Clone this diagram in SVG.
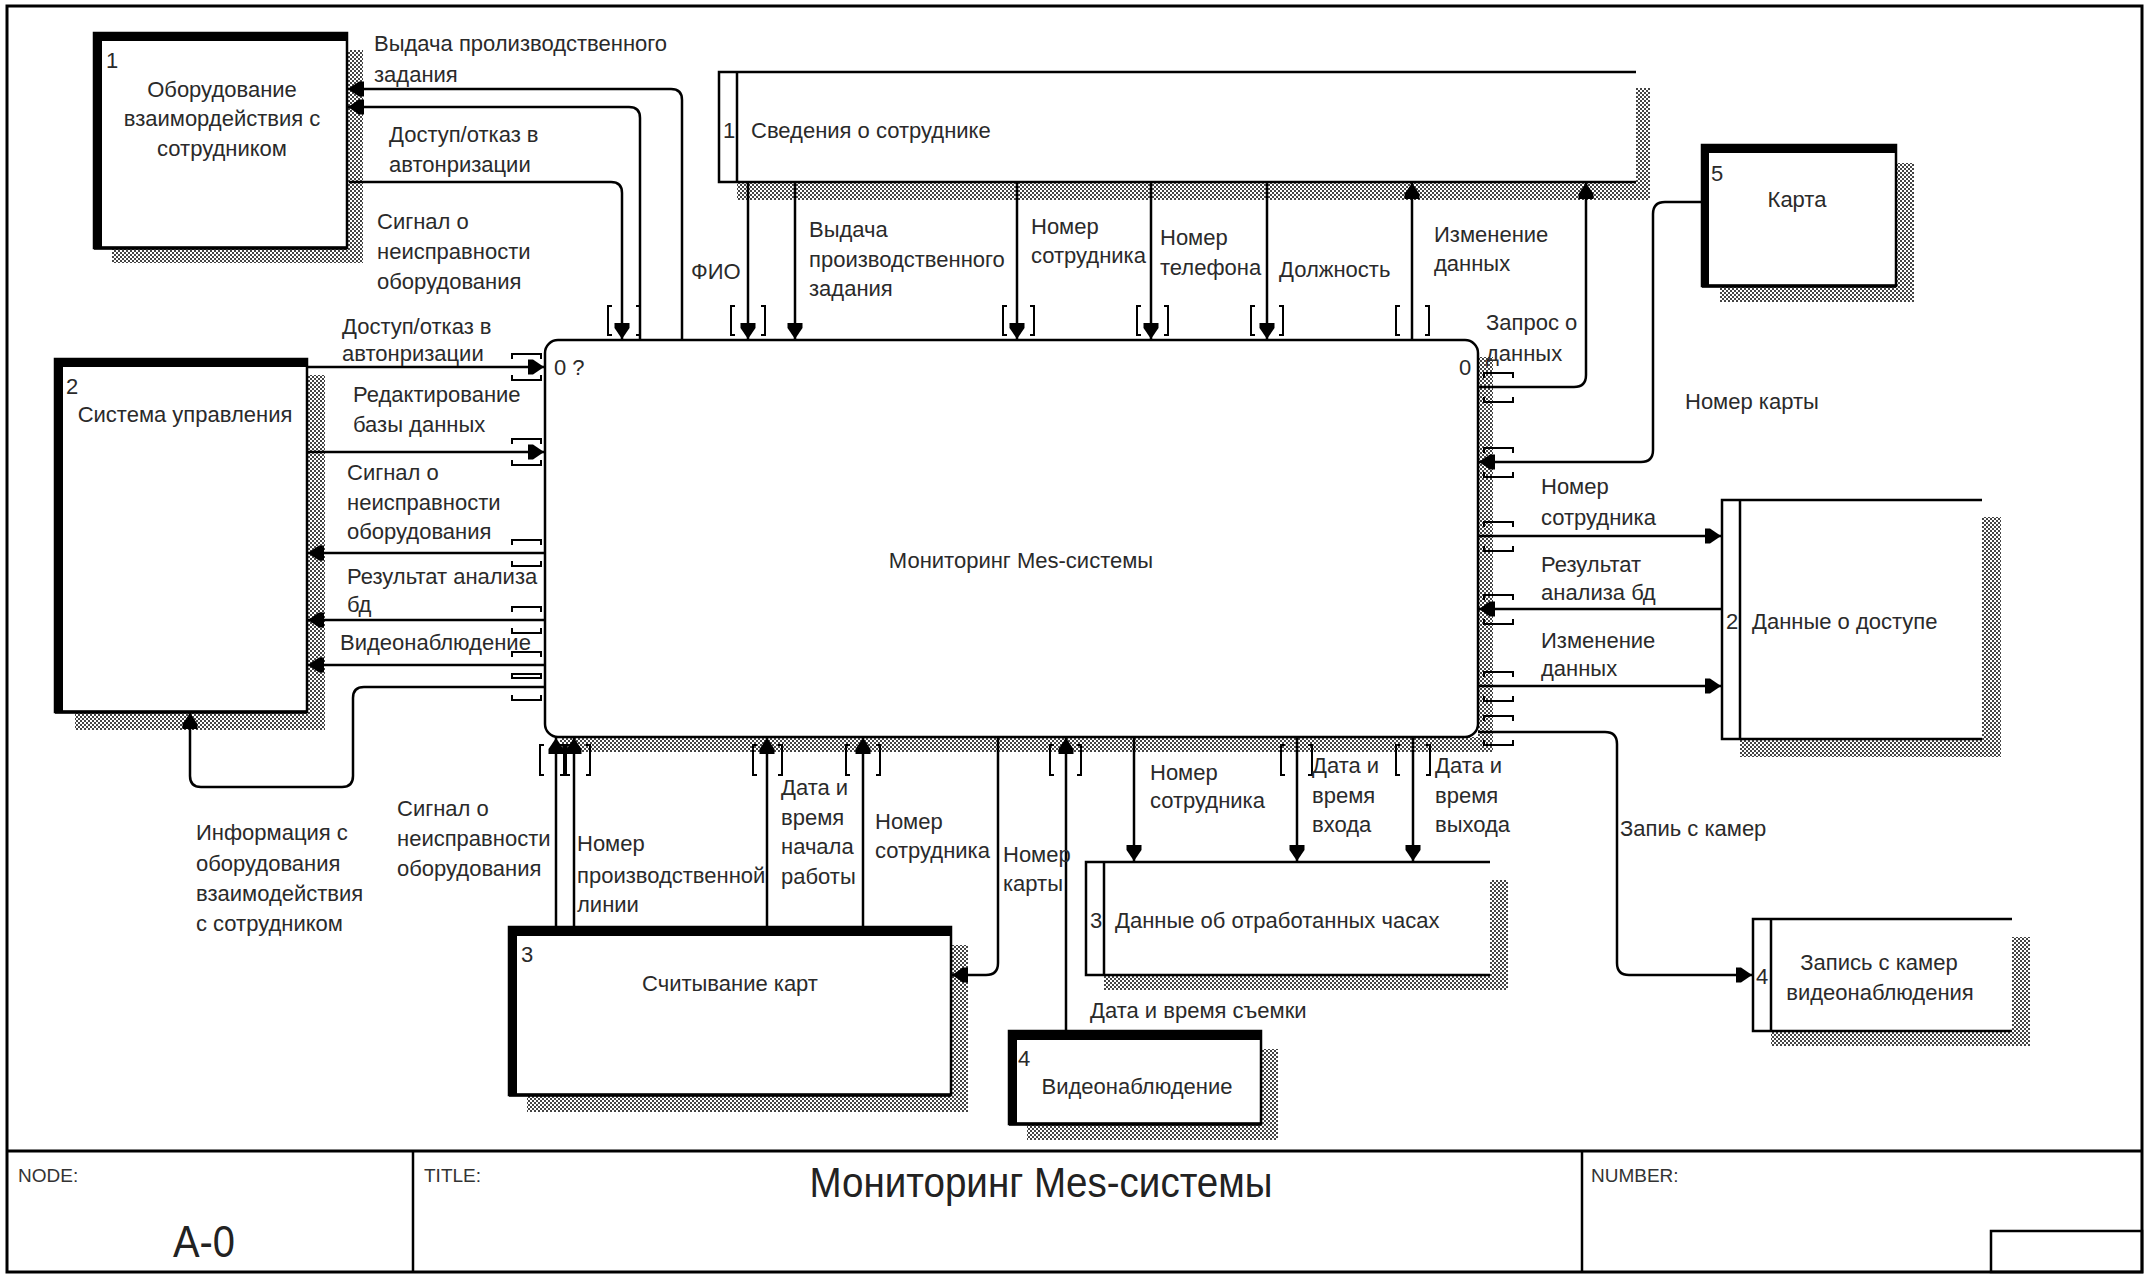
<svg xmlns="http://www.w3.org/2000/svg" width="2146" height="1276" viewBox="0 0 2146 1276">
<defs>
<pattern id="hatch" width="4" height="4" patternUnits="userSpaceOnUse">
<rect width="4" height="4" fill="#fff"/>
<rect x="0" y="0" width="2" height="2" fill="#444"/>
<rect x="2" y="2" width="2" height="2" fill="#444"/>
</pattern>
<marker id="ah" viewBox="0 0 17 17" refX="17" refY="8.5" markerWidth="17" markerHeight="17" markerUnits="userSpaceOnUse" orient="auto">
<path d="M17,8.5 L6,1 L1,1 L1,16 L6,16 Z" fill="#000"/>
</marker>
<style>
.t{font-family:"Liberation Sans",Arial,sans-serif;font-size:22px;fill:#2a2a2a}
.m{text-anchor:middle}
.c{fill:none;stroke:#000;stroke-width:2.5}
.a{marker-end:url(#ah)}
.br{fill:none;stroke:#000;stroke-width:2}
.sh{fill:url(#hatch);stroke:none}
.box{fill:#fff;stroke:#000;stroke-width:2.5}
.thick{fill:#000}
.ds{fill:none;stroke:#000;stroke-width:2.5}
.hd{font-family:"Liberation Sans",Arial,sans-serif;font-size:19px;fill:#333}
</style>
</defs>
<rect x="0" y="0" width="2146" height="1276" fill="#fff"/>

<!-- frame -->
<g id="frame">
<rect x="7" y="6" width="2135" height="1266" fill="none" stroke="#000" stroke-width="3"/>
<line x1="7" y1="1151" x2="2142" y2="1151" stroke="#000" stroke-width="3"/>
<line x1="413" y1="1151" x2="413" y2="1272" stroke="#000" stroke-width="2.5"/>
<line x1="1582" y1="1151" x2="1582" y2="1272" stroke="#000" stroke-width="2.5"/>
<rect x="1991" y="1231" width="151" height="41" fill="none" stroke="#000" stroke-width="2.5"/>
<text class="hd" x="18" y="1182">NODE:</text>
<text class="hd" x="424" y="1182">TITLE:</text>
<text class="hd" x="1591" y="1182">NUMBER:</text>
<text x="204" y="1257" text-anchor="middle" font-family="'Liberation Sans',Arial,sans-serif" font-size="45" fill="#222" textLength="62" lengthAdjust="spacingAndGlyphs">A-0</text>
<text x="1041" y="1197" text-anchor="middle" font-family="'Liberation Sans',Arial,sans-serif" font-size="43" fill="#222" textLength="463" lengthAdjust="spacingAndGlyphs">Мониторинг Mes-системы</text>
</g>

<!-- shadows -->
<g id="shadows">
<rect class="sh" x="347" y="50" width="16" height="213"/>
<rect class="sh" x="112" y="248" width="251" height="15"/>
<rect class="sh" x="307" y="375" width="18" height="355"/>
<rect class="sh" x="75" y="712" width="250" height="18"/>
<rect class="sh" x="951" y="945" width="17" height="167"/>
<rect class="sh" x="527" y="1095" width="441" height="17"/>
<rect class="sh" x="1261" y="1049" width="17" height="91"/>
<rect class="sh" x="1027" y="1124" width="251" height="16"/>
<rect class="sh" x="1896" y="163" width="18" height="139"/>
<rect class="sh" x="1720" y="286" width="194" height="16"/>
<rect class="sh" x="1478" y="357" width="15" height="395"/>
<rect class="sh" x="560" y="737" width="933" height="15"/>
<rect class="sh" x="1636" y="88" width="14" height="112"/>
<rect class="sh" x="737" y="182" width="913" height="18"/>
<rect class="sh" x="1982" y="517" width="19" height="240"/>
<rect class="sh" x="1740" y="739" width="261" height="18"/>
<rect class="sh" x="1490" y="880" width="18" height="110"/>
<rect class="sh" x="1104" y="975" width="404" height="15"/>
<rect class="sh" x="2012" y="937" width="18" height="109"/>
<rect class="sh" x="1771" y="1031" width="259" height="15"/>
</g>

<!-- main process -->
<g id="node0">
<rect class="box" x="545" y="340" width="933" height="397" rx="13" ry="13"/>
<text class="t" x="554" y="375">0 ?</text>
<text class="t" x="1459" y="375">0</text>
<text class="t m" x="1021" y="568">Мониторинг Mes-системы</text>
</g>

<!-- external entities -->
<g id="ext1">
<rect class="box" x="94" y="33" width="253" height="215"/>
<rect class="thick" x="94" y="33" width="253" height="8"/>
<rect class="thick" x="94" y="33" width="8" height="215"/>
<line x1="94" y1="248" x2="347" y2="248" stroke="#000" stroke-width="3.5"/>
<text class="t" x="106" y="68">1</text>
<text class="t m" x="222" y="97">Оборудование</text>
<text class="t m" x="222" y="126">взаимордействия с</text>
<text class="t m" x="222" y="156">сотрудником</text>
</g>
<g id="ext2">
<rect class="box" x="55" y="359" width="252" height="353"/>
<rect class="thick" x="55" y="359" width="252" height="8"/>
<rect class="thick" x="55" y="359" width="8" height="353"/>
<line x1="55" y1="712" x2="307" y2="712" stroke="#000" stroke-width="3.5"/>
<text class="t" x="66" y="394">2</text>
<text class="t m" x="185" y="422">Система управления</text>
</g>
<g id="ext3">
<rect class="box" x="509" y="927" width="442" height="168"/>
<rect class="thick" x="509" y="927" width="442" height="9"/>
<rect class="thick" x="509" y="927" width="8" height="168"/>
<line x1="509" y1="1095" x2="951" y2="1095" stroke="#000" stroke-width="3.5"/>
<text class="t" x="521" y="962">3</text>
<text class="t m" x="730" y="991">Считывание карт</text>
</g>
<g id="ext4">
<rect class="box" x="1009" y="1031" width="252" height="93"/>
<rect class="thick" x="1009" y="1031" width="252" height="9"/>
<rect class="thick" x="1009" y="1031" width="8" height="93"/>
<line x1="1009" y1="1124" x2="1261" y2="1124" stroke="#000" stroke-width="3.5"/>
<text class="t" x="1018" y="1066">4</text>
<text class="t m" x="1137" y="1094">Видеонаблюдение</text>
</g>
<g id="ext5">
<rect class="box" x="1702" y="145" width="194" height="141"/>
<rect class="thick" x="1702" y="145" width="194" height="8"/>
<rect class="thick" x="1702" y="145" width="7" height="141"/>
<line x1="1702" y1="286" x2="1896" y2="286" stroke="#000" stroke-width="3.5"/>
<text class="t" x="1711" y="181">5</text>
<text class="t m" x="1797" y="207">Карта</text>
</g>

<!-- data stores -->
<g id="store1">
<rect x="719" y="72" width="917" height="110" fill="#fff"/>
<path class="ds" d="M1636,72 H719 V182 H1636 M737,72 V182"/>
<text class="t" x="723" y="138">1</text>
<text class="t" x="751" y="138">Сведения о сотруднике</text>
</g>
<g id="store2">
<rect x="1722" y="500" width="260" height="239" fill="#fff"/>
<path class="ds" d="M1982,500 H1722 V739 H1982 M1740,500 V739"/>
<text class="t" x="1726" y="629">2</text>
<text class="t" x="1752" y="629">Данные о доступе</text>
</g>
<g id="store3">
<rect x="1086" y="862" width="404" height="113" fill="#fff"/>
<path class="ds" d="M1490,862 H1086 V975 H1490 M1104,862 V975"/>
<text class="t" x="1090" y="928">3</text>
<text class="t" x="1115" y="928">Данные об отработанных часах</text>
</g>
<g id="store4">
<rect x="1753" y="919" width="259" height="112" fill="#fff"/>
<path class="ds" d="M2012,919 H1753 V1031 H2012 M1771,919 V1031"/>
<text class="t" x="1756" y="984">4</text>
<text class="t m" x="1879" y="970">Запись с камер</text>
<text class="t m" x="1880" y="1000">видеонаблюдения</text>
</g>

<!-- connectors -->
<g id="connectors">
<path class="c a" d="M682,340 V100 Q682,89 671,89 H348"/>
<path class="c a" d="M640,340 V118 Q640,107 629,107 H348"/>
<path class="c a" d="M349,182 H611 Q622,182 622,193 V339"/>
<path class="c a" d="M307,367 H544"/>
<path class="c a" d="M307,452 H544"/>
<path class="c a" d="M545,553 H308"/>
<path class="c a" d="M545,620 H308"/>
<path class="c a" d="M545,665 H308"/>
<path class="c a" d="M545,687 H364 Q353,687 353,698 V776 Q353,787 342,787 H201 Q190,787 190,776 V713"/>
<path class="c a" d="M556,927 V738"/>
<path class="c a" d="M574,927 V738"/>
<path class="c a" d="M767,927 V738"/>
<path class="c a" d="M863,927 V738"/>
<path class="c a" d="M998,737 V963 Q998,975 986,975 H952"/>
<path class="c a" d="M1066,1031 V738"/>
<path class="c a" d="M1134,737 V861"/>
<path class="c a" d="M1297,737 V861"/>
<path class="c a" d="M1413,737 V861"/>
<path class="c a" d="M1478,732 H1605 Q1617,732 1617,744 V963 Q1617,975 1629,975 H1752"/>
<path class="c a" d="M748,182 V339"/>
<path class="c a" d="M795,182 V339"/>
<path class="c a" d="M1017,182 V339"/>
<path class="c a" d="M1151,182 V339"/>
<path class="c a" d="M1267,182 V339"/>
<path class="c a" d="M1412,340 V183"/>
<path class="c a" d="M1478,387 H1574 Q1586,387 1586,375 V183"/>
<path class="c a" d="M1702,202 H1665 Q1653,202 1653,214 V450 Q1653,462 1641,462 H1479"/>
<path class="c a" d="M1478,536 H1721"/>
<path class="c a" d="M1722,609 H1479"/>
<path class="c a" d="M1478,686 H1721"/>

<path class="br" d="M612,306 h-4 V335 h4 M636,306 h4 V335 h-4"/>
<path class="br" d="M735,306 h-4 V335 h4 M761,306 h4 V335 h-4"/>
<path class="br" d="M1007,306 h-4 V335 h4 M1030,306 h4 V335 h-4"/>
<path class="br" d="M1141,306 h-4 V335 h4 M1164,306 h4 V335 h-4"/>
<path class="br" d="M1255,306 h-4 V335 h4 M1279,306 h4 V335 h-4"/>
<path class="br" d="M1400,306 h-4 V335 h4 M1425,306 h4 V335 h-4"/>
<path class="br" d="M544,745 h-4 V775 h4 M560,745 h4 V775 h-4"/>
<path class="br" d="M570,745 h-4 V775 h4 M586,745 h4 V775 h-4"/>
<path class="br" d="M757,745 h-4 V775 h4 M778,745 h4 V775 h-4"/>
<path class="br" d="M850,745 h-4 V775 h4 M876,745 h4 V775 h-4"/>
<path class="br" d="M1054,745 h-4 V775 h4 M1077,745 h4 V775 h-4"/>
<path class="br" d="M1285,745 h-4 V775 h4 M1308,745 h4 V775 h-4"/>
<path class="br" d="M1400,745 h-4 V775 h4 M1426,745 h4 V775 h-4"/>
<path class="br" d="M512,359 v-5 H541 v5 M512,375 v5 H541 v-5"/>
<path class="br" d="M512,444 v-5 H541 v5 M512,460 v5 H541 v-5"/>
<path class="br" d="M512,545 v-5 H541 v5 M512,561 v5 H541 v-5"/>
<path class="br" d="M512,612 v-5 H541 v5 M512,628 v5 H541 v-5"/>
<path class="br" d="M512,657 v-5 H541 v5 M512,673 v5 H541 v-5"/>
<path class="br" d="M512,679 v-5 H541 v5 M512,695 v5 H541 v-5"/>
<path class="br" d="M1484,378 v-5 H1513 v5 M1484,397 v5 H1513 v-5"/>
<path class="br" d="M1484,453 v-5 H1513 v5 M1484,472 v5 H1513 v-5"/>
<path class="br" d="M1484,527 v-5 H1513 v5 M1484,546 v5 H1513 v-5"/>
<path class="br" d="M1484,600 v-5 H1513 v5 M1484,619 v5 H1513 v-5"/>
<path class="br" d="M1484,677 v-5 H1513 v5 M1484,696 v5 H1513 v-5"/>
<path class="br" d="M1484,721 v-5 H1513 v5 M1484,740 v5 H1513 v-5"/>

<text class="t" x="374" y="51">Выдача пролизводственного</text>
<text class="t" x="374" y="82">задания</text>
<text class="t" x="389" y="142">Доступ/отказ в</text>
<text class="t" x="389" y="172">автонризации</text>
<text class="t" x="377" y="229">Сигнал о</text>
<text class="t" x="377" y="259">неисправности</text>
<text class="t" x="377" y="289">оборудования</text>
<text class="t" x="342" y="334">Доступ/отказ в</text>
<text class="t" x="342" y="361">автонризации</text>
<text class="t" x="353" y="402">Редактирование</text>
<text class="t" x="353" y="432">базы данных</text>
<text class="t" x="347" y="480">Сигнал о</text>
<text class="t" x="347" y="510">неисправности</text>
<text class="t" x="347" y="539">оборудования</text>
<text class="t" x="347" y="584">Результат анализа</text>
<text class="t" x="347" y="612">бд</text>
<text class="t" x="340" y="650">Видеонаблюдение</text>
<text class="t" x="196" y="840">Информация с</text>
<text class="t" x="196" y="871">оборудования</text>
<text class="t" x="196" y="901">взаимодействия</text>
<text class="t" x="196" y="931">с сотрудником</text>
<text class="t" x="397" y="816">Сигнал о</text>
<text class="t" x="397" y="846">неисправности</text>
<text class="t" x="397" y="876">оборудования</text>
<text class="t" x="577" y="851">Номер</text>
<text class="t" x="577" y="883">производственной</text>
<text class="t" x="577" y="912">линии</text>
<text class="t" x="781" y="795">Дата и</text>
<text class="t" x="781" y="825">время</text>
<text class="t" x="781" y="854">начала</text>
<text class="t" x="781" y="884">работы</text>
<text class="t" x="875" y="829">Номер</text>
<text class="t" x="875" y="858">сотрудника</text>
<text class="t" x="1003" y="862">Номер</text>
<text class="t" x="1003" y="891">карты</text>
<text class="t" x="1090" y="1018">Дата и время съемки</text>
<text class="t" x="1150" y="780">Номер</text>
<text class="t" x="1150" y="808">сотрудника</text>
<text class="t" x="1312" y="773">Дата и</text>
<text class="t" x="1312" y="803">время</text>
<text class="t" x="1312" y="832">входа</text>
<text class="t" x="1435" y="773">Дата и</text>
<text class="t" x="1435" y="803">время</text>
<text class="t" x="1435" y="832">выхода</text>
<text class="t" x="1620" y="836">Запиь с камер</text>
<text class="t" x="691" y="279">ФИО</text>
<text class="t" x="809" y="237">Выдача</text>
<text class="t" x="809" y="267">производственного</text>
<text class="t" x="809" y="296">задания</text>
<text class="t" x="1031" y="234">Номер</text>
<text class="t" x="1031" y="263">сотрудника</text>
<text class="t" x="1160" y="245">Номер</text>
<text class="t" x="1160" y="275">телефона</text>
<text class="t" x="1279" y="277">Должность</text>
<text class="t" x="1434" y="242">Изменение</text>
<text class="t" x="1434" y="271">данных</text>
<text class="t" x="1486" y="330">Запрос о</text>
<text class="t" x="1486" y="361">данных</text>
<text class="t" x="1685" y="409">Номер карты</text>
<text class="t" x="1541" y="494">Номер</text>
<text class="t" x="1541" y="525">сотрудника</text>
<text class="t" x="1541" y="572">Результат</text>
<text class="t" x="1541" y="600">анализа бд</text>
<text class="t" x="1541" y="648">Изменение</text>
<text class="t" x="1541" y="676">данных</text>
</g>
</svg>
